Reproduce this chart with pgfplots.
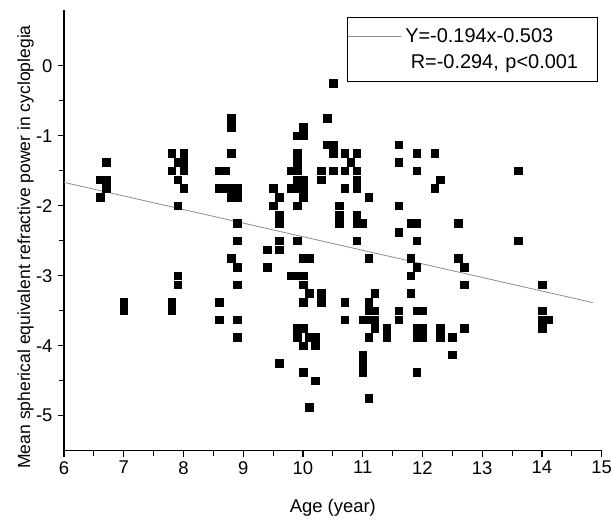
\documentclass[border=0pt]{standalone}
\usepackage{pgfplots}
\pgfplotsset{compat=1.18}
\usepackage{fontspec}
\setmainfont{Liberation Sans}
\definecolor{fitgray}{RGB}{140,140,140}
\pgfplotstableread{
x y
6.7 -1.375
6.6 -1.625
6.7 -1.625
6.7 -1.75
6.6 -1.875
7.0 -3.375
7.0 -3.5
7.8 -1.25
8.0 -1.25
7.9 -1.375
8.0 -1.375
7.8 -1.5
8.0 -1.5
7.9 -1.625
8.0 -1.75
7.9 -2.0
7.9 -3.0
7.9 -3.125
7.8 -3.375
7.8 -3.5
8.8 -0.75
8.8 -0.875
8.8 -1.25
8.6 -1.5
8.7 -1.5
8.6 -1.75
8.7 -1.75
8.8 -1.75
8.9 -1.75
8.8 -1.875
8.9 -1.875
8.9 -2.25
8.9 -2.5
8.8 -2.75
8.9 -2.875
8.9 -3.125
8.6 -3.375
8.6 -3.625
8.9 -3.625
8.9 -3.875
9.4 -2.625
9.4 -2.875
9.5 -1.75
9.6 -1.875
9.5 -2.0
9.6 -2.125
9.6 -2.25
9.6 -2.5
9.6 -2.625
9.6 -4.25
9.8 -1.5
9.9 -1.5
9.9 -1.25
9.9 -1.375
9.9 -1.625
10.0 -1.625
9.8 -1.75
9.9 -1.75
10.0 -1.75
10.0 -1.875
9.9 -2.0
9.9 -2.5
10.0 -0.875
9.9 -1.0
10.0 -1.0
10.0 -2.75
10.1 -2.75
9.8 -3.0
9.9 -3.0
10.0 -3.0
10.0 -3.125
10.1 -3.25
10.0 -3.375
9.9 -3.75
10.0 -3.75
9.9 -3.875
10.1 -3.875
10.2 -3.875
10.0 -4.0
10.2 -4.0
10.0 -4.375
10.2 -4.5
10.1 -4.875
10.3 -1.5
10.3 -1.625
10.3 -3.25
10.3 -3.375
10.4 -0.75
10.5 -0.25
10.4 -1.125
10.5 -1.125
10.5 -1.25
10.5 -1.5
10.6 -2.0
10.6 -2.125
10.6 -2.25
10.7 -1.25
10.9 -1.25
10.8 -1.375
10.7 -1.5
10.9 -1.5
10.9 -1.625
10.7 -1.75
10.9 -1.75
10.9 -2.125
10.9 -2.25
11.0 -2.25
10.9 -2.5
10.7 -3.375
10.7 -3.625
11.1 -1.875
11.1 -2.75
11.2 -3.25
11.1 -3.375
11.1 -3.5
11.2 -3.5
11.0 -3.625
11.1 -3.625
11.2 -3.625
11.2 -3.75
11.1 -3.875
11.4 -3.75
11.4 -3.875
11.0 -4.125
11.0 -4.25
11.0 -4.375
11.1 -4.75
11.6 -1.125
11.6 -1.375
11.6 -2.0
11.6 -2.375
11.6 -3.5
11.6 -3.625
11.9 -1.25
12.2 -1.25
11.9 -1.5
12.3 -1.625
12.2 -1.75
11.8 -2.25
11.9 -2.25
11.9 -2.5
11.8 -2.75
11.9 -2.875
11.8 -3.0
11.8 -3.25
11.9 -3.5
12.0 -3.5
11.9 -3.75
12.0 -3.75
11.9 -3.875
12.0 -3.875
12.3 -3.75
12.3 -3.875
12.5 -3.875
12.5 -4.125
11.9 -4.375
12.6 -2.25
12.6 -2.75
12.7 -2.875
12.7 -3.125
12.7 -3.75
13.6 -1.5
13.6 -2.5
14.0 -3.125
14.0 -3.5
14.0 -3.625
14.1 -3.625
14.0 -3.75
}\scatterdata
\begin{document}
\begin{tikzpicture}
\useasboundingbox (-64bp,-69.3bp) rectangle (547bp,450.7bp);
\begin{axis}[
  at={(0,0)}, anchor=south west,
  width=537.7bp, height=441bp, scale only axis,
  xmin=6, xmax=15, ymin=-5.5, ymax=0.8,
  axis x line*=bottom, axis y line*=left,
  axis line style={line width=1.1bp, black},
  xtick={6,7,...,15}, ytick={-5,-4,...,0},
  minor x tick num=1, minor y tick num=1,
  tick align=outside,
  major tick length=6bp, minor tick length=5bp,
  every tick/.style={line width=1.1bp, black},
  /pgf/number format/assume math mode=true,
  ticklabel style={font=\fontsize{18.5}{18.5}\selectfont},
  yticklabel style={xshift=-2bp},
  xticklabel style={yshift=-1bp},
  xlabel={Age (year)},
  ylabel={Mean spherical equivalent refractive power in cycloplegia},
  xlabel style={at={(axis description cs:0.5,-0.139)}, anchor=base, font=\fontsize{18.5}{18.5}\selectfont},
  ylabel style={at={(axis description cs:-0.056,0.462)}, anchor=south, inner sep=0pt, font=\fontsize{17.6}{17.6}\selectfont},
  legend style={at={(axis description cs:0.9926,0.984)}, anchor=north east,
    draw=black, line width=0.8bp, inner xsep=0pt, inner ysep=6bp, row sep=0bp,
    font=\fontsize{20}{24}\selectfont,
    nodes={inner xsep=4bp, inner ysep=3bp, text height=16bp, text depth=4bp, text width=188bp, align=left}},
  legend cell align=left,
  legend image code/.code={\draw[#1] (0bp,0bp) -- (53bp,0bp);},
]
\addplot[only marks, mark=square*, mark size=3.8bp, mark options={fill=black, draw=black, line width=0.2bp}, forget plot] table[x=x,y=y] {\scatterdata};
\addplot[color=fitgray, line width=0.8bp] coordinates {(6,-1.667) (14.85,-3.384)};
\addlegendentry{Y=-0.194x-0.503}
\addlegendimage{empty legend}
\addlegendentry{\hspace*{5.5bp}R=-0.294, p<0.001}
\end{axis}
\end{tikzpicture}
\end{document}
